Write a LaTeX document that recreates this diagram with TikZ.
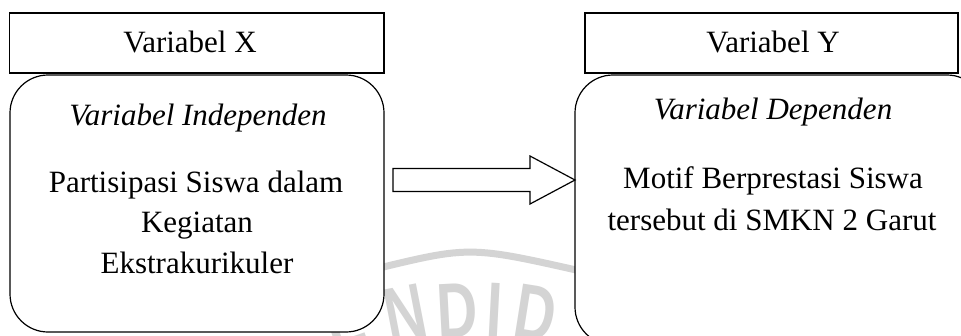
\documentclass[tikz,border=0pt]{standalone}
\usepackage{fontspec}
\usetikzlibrary{calc}
\setmainfont{Liberation Serif}
\newfontfamily\wmfont{Liberation Sans}
\definecolor{wmgray}{RGB}{212,212,212}
\begin{document}
\begin{tikzpicture}[x=1pt,y=-1pt,
  every node/.style={inner sep=0pt, outer sep=0pt},
  headbox/.style={draw, line width=1.2pt, fill=white, minimum height=60pt},
  bodybox/.style={draw, line width=1.2pt, fill=white, rounded corners=38pt},
  txt/.style={anchor=base, font=\fontsize{31}{37}\selectfont},
  itxt/.style={txt, font=\fontsize{31}{37}\selectfont\itshape},
  wmletter/.style={anchor=base, text=wmgray, font=\wmfont\bfseries\fontsize{78}{78}\selectfont},
  blockarrow/.style={draw, line width=1.2pt, fill=white, line join=miter}]
\useasboundingbox (0,0) rectangle (961,335);
\clip (0,0) rectangle (961,335);
\fill[white] (0,0) rectangle (961,335);
% watermark
\draw[wmgray, line width=7pt] (375,269) .. controls (470,246) .. (585,272);
\node[wmletter, rotate=19] (wE) at (352,346) {\scalebox{0.72}[1]{E}};
\node[wmletter, rotate=11] (wN) at (410,340) {\scalebox{0.72}[1]{N}};
\node[wmletter, rotate=3] (wD1) at (459,337) {\scalebox{0.72}[1]{D}};
\node[wmletter, rotate=-3] (wI) at (493,337) {\scalebox{0.72}[1]{I}};
\node[wmletter, rotate=-9] (wD2) at (532,340) {\scalebox{0.72}[1]{D}};
% boxes
\node[bodybox, minimum width=374pt, minimum height=257pt] (indep) at (197,203.5) {};
\node[headbox, minimum width=374.5pt] (varx) at (196.75,43) {};
\node[bodybox, minimum width=410pt, minimum height=270pt] (dep) at (780,210) {};
\node[headbox, minimum width=373pt] (vary) at (771.5,43) {};
% texts
\node[txt] (tx) at (190,52) {Variabel X};
\node[itxt] (ti) at (198,125) {Variabel Independen};
\node[txt] (l1) at (196,192) {Partisipasi Siswa dalam};
\node[txt] (l2) at (197,232) {Kegiatan};
\node[txt] (l3) at (197,273) {Ekstrakurikuler};
\node[txt] (ty) at (773,52) {Variabel Y};
\node[itxt] (td) at (773,119) {Variabel Dependen};
\node[txt] (r1) at (773,188) {Motif Berprestasi Siswa};
\node[txt] (r2) at (772,230) {tersebut di SMKN 2 Garut};
% block arrow
\coordinate (ylevel) at (0,180);
\coordinate (a0) at ($(indep.east |- ylevel)+(9,0)$);
\coordinate (tip) at (dep.west |- ylevel);
\draw[blockarrow] ($(a0)+(0,-11.5)$) -- ++(137,0) -- ++(0,-12.5) -- (tip)
  -- ($(a0)+(137,24)$) -- ++(0,-12.5) -- ($(a0)+(0,11.5)$) -- cycle;
\end{tikzpicture}
\end{document}
